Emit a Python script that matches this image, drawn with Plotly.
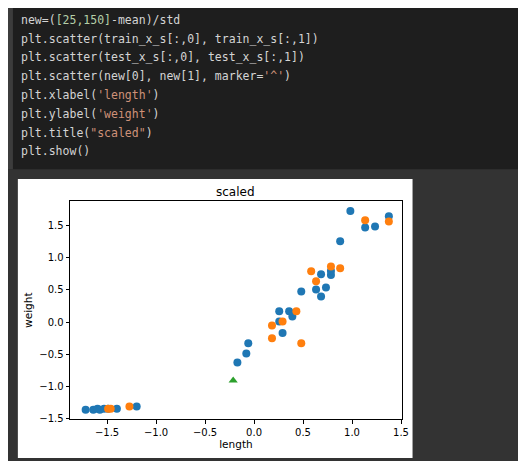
import plotly.graph_objects as go

# scaled train / test points (length, weight)
train_x = [-1.719, -1.641, -1.598, -1.574, -1.531, -1.490, -1.400, -1.198,
           -0.170, -0.079, -0.059, 0.257, 0.257, 0.291, 0.358, 0.391, 0.482,
           0.633, 0.684, 0.684, 0.734, 0.785, 0.785, 0.879, 0.983, 1.134,
           1.235, 1.376]
train_y = [-1.358, -1.358, -1.343, -1.358, -1.343, -1.343, -1.343, -1.307,
           -0.626, -0.487, -0.329, 0.168, 0.009, -0.170, 0.168, 0.086, 0.475,
           0.506, 0.741, 0.398, 0.537, 0.731, 0.793, 1.253, 1.725, 1.468,
           1.484, 1.643]
test_x = [-1.490, -1.463, -1.272, 0.183, 0.183, 0.291, 0.432, 0.482, 0.583,
          0.633, 0.785, 0.879, 1.134, 1.376]
test_y = [-1.343, -1.343, -1.307, -0.052, -0.252, 0.009, 0.168, -0.329, 0.788,
          0.634, 0.864, 0.834, 1.581, 1.561]
new_x = [-0.213]
new_y = [-0.907]

W = "#d4d4d4"
S = "#ce9178"
N = "#b5cea8"
code_lines = [
    f'new=(<span style="color:{N}">[25,150]</span>-mean)/std',
    'plt.scatter(train_x_s[:,0], train_x_s[:,1])',
    'plt.scatter(test_x_s[:,0], test_x_s[:,1])',
    f'plt.scatter(new[0], new[1], marker=<span style="color:{S}">\'^\'</span>)',
    f'plt.xlabel(<span style="color:{S}">\'length\'</span>)',
    f'plt.ylabel(<span style="color:{S}">\'weight\'</span>)',
    f'plt.title(<span style="color:{S}">"scaled"</span>)',
    'plt.show()',
]

fig = go.Figure()
fig.add_trace(go.Scatter(x=train_x, y=train_y, mode="markers",
                         marker=dict(color="#1f77b4", size=8)))
fig.add_trace(go.Scatter(x=test_x, y=test_y, mode="markers",
                         marker=dict(color="#ff7f0e", size=8)))
fig.add_trace(go.Scatter(x=new_x, y=new_y, mode="markers",
                         marker=dict(color="#2ca02c", size=8, symbol="triangle-up")))

H = 461
shapes = [
    dict(type="rect", xref="paper", yref="paper", x0=0, x1=1, y0=1 - 163 / H, y1=1,
         fillcolor="#1e1e1e", line_width=0, layer="below"),
    dict(type="rect", xref="paper", yref="paper", x0=0, x1=5 / 526, y0=1 - 163 / H, y1=1,
         fillcolor="#3c3c3c", line_width=0, layer="below"),
    dict(type="rect", xref="paper", yref="paper", x0=10 / 526, x1=410 / 526,
         y0=1 - 455 / H, y1=1 - 173 / H, fillcolor="white", line_width=0, layer="below"),
]

annotations = []
for i, line in enumerate(code_lines):
    annotations.append(dict(
        text=line, xref="paper", yref="paper", x=11 / 526, y=1 - (12 + 19 * i) / H,
        xanchor="left", yanchor="middle", showarrow=False,
        font=dict(family="DejaVu Sans Mono", size=11.5, color=W)))
annotations.append(dict(text="scaled", xref="paper", yref="paper", x=231 / 526,
                        y=1 - 186 / H, showarrow=False,
                        font=dict(family="DejaVu Sans", size=12, color="black")))

axis_common = dict(showline=True, linecolor="black", mirror=True, ticks="outside",
                   ticklen=3.5, tickcolor="black", showgrid=False, zeroline=False,
                   tickfont=dict(family="DejaVu Sans", size=10, color="black"))

fig.update_layout(
    width=526, height=461, margin=dict(l=0, r=0, t=0, b=0),
    paper_bgcolor="#333333", plot_bgcolor="white", showlegend=False,
    shapes=shapes, annotations=annotations,
    xaxis=dict(domain=[63 / 526, 399 / 526], range=[-1.877, 1.507],
               tickvals=[-1.5, -1.0, -0.5, 0.0, 0.5, 1.0, 1.5],
               ticktext=["−1.5", "−1.0", "−0.5", "0.0", "0.5", "1.0", "1.5"],
               title=dict(text="length", standoff=2,
                          font=dict(family="DejaVu Sans", size=10.5, color="black")),
               **axis_common),
    yaxis=dict(domain=[1 - 416 / H, 1 - 195 / H], range=[-1.51, 1.88],
               tickvals=[-1.5, -1.0, -0.5, 0.0, 0.5, 1.0, 1.5],
               ticktext=["−1.5", "−1.0", "−0.5", "0.0", "0.5", "1.0", "1.5"],
               title=dict(text="weight", standoff=4,
                          font=dict(family="DejaVu Sans", size=10.5, color="black")),
               **axis_common),
)

fig.write_html("out.html")
